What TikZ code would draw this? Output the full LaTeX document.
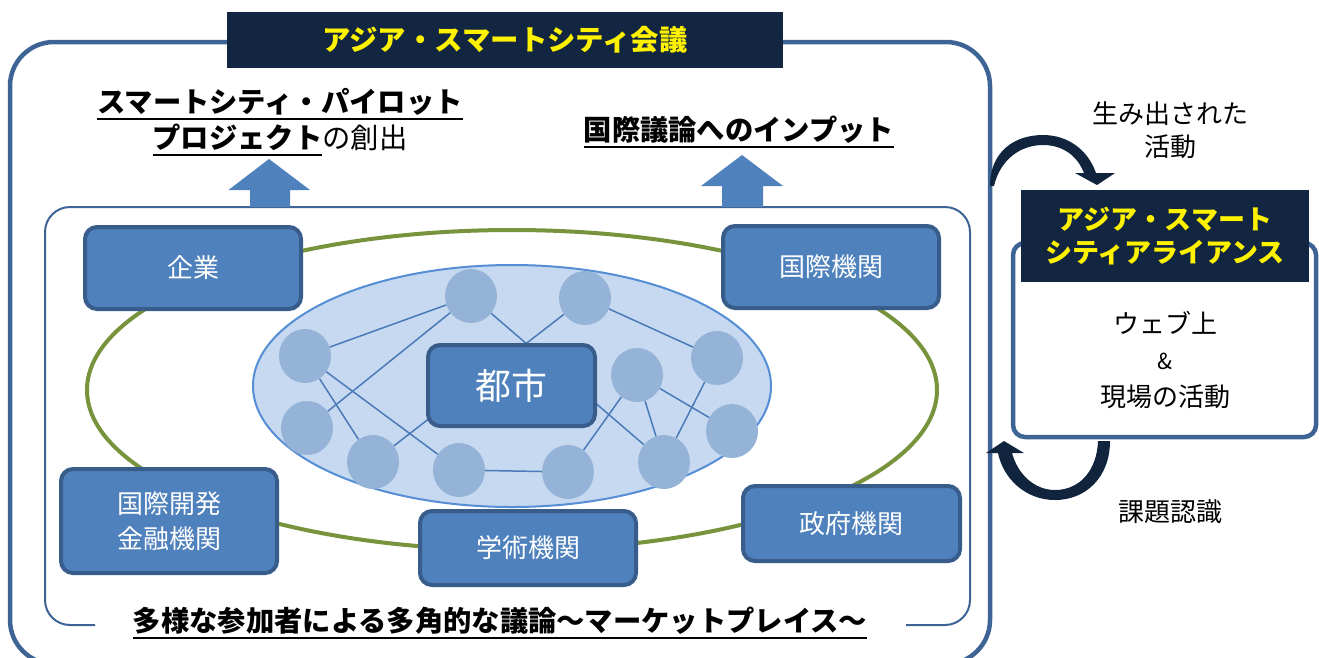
\documentclass[tikz,border=0pt]{standalone}
\usepackage{fontspec}
\setmainfont{Noto Sans CJK JP}
\usetikzlibrary{shapes.geometric}
\definecolor{navy}{HTML}{122642}
\definecolor{navyarrow}{HTML}{10243E}
\definecolor{frame}{HTML}{3E6496}
\definecolor{boxfill}{HTML}{4F81BD}
\definecolor{boxborder}{HTML}{385D8A}
\definecolor{cityfill}{HTML}{C6D9F1}
\definecolor{cityline}{HTML}{558ED5}
\definecolor{dotfill}{HTML}{95B3D7}
\definecolor{netline}{HTML}{4A7AB8}
\definecolor{ringgreen}{HTML}{77933C}
\newsavebox\ulbox
\newcommand\ulx[1]{\sbox\ulbox{#1}\rlap{\smash{\rule[-7pt]{\wd\ulbox}{2pt}}}\usebox\ulbox}
\tikzset{
  pbox/.style={draw=boxborder, line width=4pt, fill=boxfill, rounded corners=12pt, text=white,
    font=\fontsize{26}{35}\selectfont, align=center, inner sep=0pt},
  dot/.style={ellipse, fill=dotfill, minimum width=52pt, minimum height=54pt, inner sep=0pt},
  net/.style={draw=netline, line width=1.5pt},
  navybox/.style={fill=navy, text=yellow, font=\bfseries\fontsize{27}{33}\selectfont, align=center, inner sep=0pt},
  lbl/.style={font=\fontsize{26}{33}\selectfont, align=center, inner sep=0pt},
  head/.style={font=\bfseries\fontsize{28.3}{36}\selectfont, align=center, inner sep=0pt},
  framebox/.style={draw=frame, line width=4.5pt},
  blockarrow/.style={fill=boxfill},
  curvearrow/.style={fill=navyarrow},
}
\begin{document}
\begin{tikzpicture}[x=1pt,y=-1pt]
\useasboundingbox (0,0) rectangle (1319,657);
\fill[white] (0,0) rectangle (1319,657);
% outer frame
\draw[framebox, rounded corners=44pt] (10,42) rectangle (990,664);
% inner frame with gap for the bottom text
\draw[draw=frame, line width=2pt, rounded corners=25pt] (95,625) -- (45,625) -- (45,207) -- (970,207) -- (970,625) -- (906,625);
% block arrows
\fill[blockarrow] (250,207) -- (250,190) -- (228.5,190) -- (269,159) -- (310,190) -- (290,190) -- (290,207) -- cycle;
\fill[blockarrow] (722,207) -- (722,186) -- (701,186) -- (742,155) -- (783,186) -- (763,186) -- (763,207) -- cycle;
% green ring
\draw[ringgreen, line width=4pt] (512,390) ellipse [x radius=425pt, y radius=160pt];
% city ellipse
\draw[cityline, fill=cityfill, line width=2pt] (512,386) ellipse [x radius=259pt, y radius=121pt];
% network
\node[dot] (c1) at (471,296) {};
\node[dot] (c2) at (305,356) {};
\node[dot] (c3) at (307,428) {};
\node[dot] (c4) at (373,462) {};
\node[dot] (c5) at (459,470) {};
\node[dot] (c6) at (585,298) {};
\node[dot] (c7) at (717,358) {};
\node[dot] (c8) at (637,375) {};
\node[dot] (c9) at (732,431) {};
\node[dot] (c10) at (664,462) {};
\node[dot] (c11) at (568,472) {};
\draw[net] (c2) -- (c1);
\draw[net] (c3) -- (c1);
\draw[net] (c2) -- (c4);
\draw[net] (c2) -- (c5);
\draw[net] (c4) -- (c6);
\draw[net] (c1) -- (c10);
\draw[net] (c6) -- (c7);
\draw[net] (c8) -- (c11);
\draw[net] (c8) -- (c10);
\draw[net] (c8) -- (c9);
\draw[net] (c7) -- (c10);
\draw[net] (c5) -- (c11);
\node[pbox, minimum width=167pt, minimum height=81pt, font=\fontsize{36}{40}\selectfont] (city) at (511.5,385.5) {都市};
% participants
\node[pbox, minimum width=216pt, minimum height=82pt] (kigyo) at (193,268) {企業};
\node[pbox, minimum width=216pt, minimum height=82pt] (kokusai) at (831,267) {国際機関};
\node[pbox, minimum width=216pt, minimum height=104pt] (kaihatsu) at (169,521) {国際開発\\金融機関};
\node[pbox, minimum width=216pt, minimum height=74pt] (gakujutsu) at (528,548) {学術機関};
\node[pbox, minimum width=217pt, minimum height=75pt] (seifu) at (851.5,523.5) {政府機関};
% title
\node[navybox, minimum width=556pt, minimum height=56pt, font=\bfseries\fontsize{28.4}{33}\selectfont] (title) at (505,40) {アジア・スマートシティ会議};
% outputs
\node[head] (pilot) at (280,120) {\ulx{スマートシティ・パイロット}\\\ulx{プロジェクト}{\mdseries の創出}};
\node[head] (input) at (739,130) {\ulx{国際議論へのインプット}};
\node[head, fill=white, inner xsep=8pt] (market) at (500,621) {\ulx{多様な参加者による多角的な議論～マーケットプレイス～}};
% alliance
\draw[framebox, fill=white, rounded corners=12pt] (1013,243) rectangle (1316,437);
\node[navybox, minimum width=288pt, minimum height=92pt] (alliance) at (1165,236) {アジア・スマート\\シティアライアンス};
\node[lbl] (web) at (1165,323) {ウェブ上};
\node[lbl, font=\fontsize{22}{24}\selectfont] (amp) at (1165,361) {\&};
\node[lbl] (genba) at (1165,397) {現場の活動};
% curved arrows
\fill[curvearrow] (990,186) .. controls (990,152) and (1014,135) .. (1043,135) .. controls (1068,135) and (1088,150) .. (1096,173) -- (1115,173) -- (1097,185) -- (1075,173) -- (1084,173) .. controls (1077,155) and (1062,145) .. (1043,145) .. controls (1020,145) and (1000,160) .. (994,186) -- cycle;
\fill[curvearrow] (1110,441) .. controls (1110,477) and (1086,500) .. (1055,500) .. controls (1025,500) and (1003,478) .. (998,453) -- (986,453) -- (1004,441) -- (1024,453) -- (1012,453) .. controls (1018,475) and (1035,490) .. (1055,490) .. controls (1080,490) and (1097,470) .. (1098,441) -- cycle;
\node[lbl] (created) at (1170,130) {生み出された\\活動};
\node[lbl] (issue) at (1170,512) {課題認識};
\end{tikzpicture}
\end{document}
